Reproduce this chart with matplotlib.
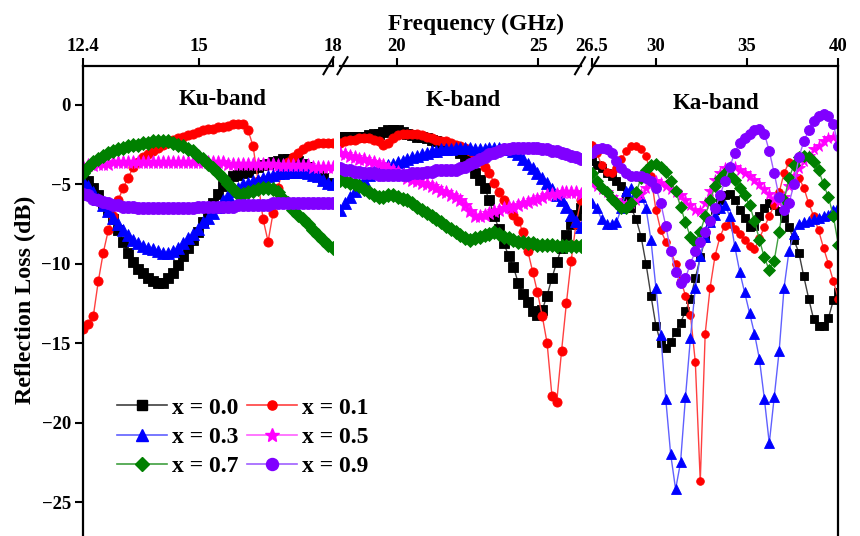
import numpy as np
import matplotlib
matplotlib.use("Agg")
import matplotlib.pyplot as plt
from matplotlib.lines import Line2D

plt.rcParams['font.family'] = ['Liberation Serif', 'DejaVu Serif']
plt.rcParams['font.weight'] = 'bold'

# ---------------- data ----------------
labels = ["x = 0.0", "x = 0.1", "x = 0.3", "x = 0.5", "x = 0.7", "x = 0.9"]
bands = ["Ku-band", "K-band", "Ka-band"]
band_lims = [(12.4, 18.0), (18.0, 26.5), (26.5, 40.0)]
band_ticks = [[12.4, 15, 18], [20, 25], [26.5, 30, 35, 40]]

# Ku band (12.4-18 GHz)
ku_x00 = [-4.3, -4.8, -5.2, -5.7, -6.2, -6.6, -7.2, -7.9, -8.6, -9.3, -9.9, -10.3, -10.6, -10.9, -11.1, -11.2,
          -11.2, -10.9, -10.6, -10.1, -9.5, -9.0, -8.5, -8.0, -7.4, -6.8, -6.2, -5.6, -5.1, -4.8, -4.5, -4.4,
          -4.3, -4.2, -4.0, -3.9, -3.8, -3.7, -3.6, -3.5, -3.4, -3.4, -3.4, -3.5, -3.7, -3.9, -4.2, -4.4,
          -4.6, -4.9, -5.0]
ku_x01 = [-14.1, -13.8, -13.3, -11.1, -9.3, -7.9, -7.0, -6.0, -5.2, -4.6, -3.9, -3.6, -3.3, -3.1, -2.9, -2.7,
          -2.5, -2.4, -2.2, -2.1, -2.0, -1.9, -1.8, -1.7, -1.6, -1.5, -1.5, -1.4, -1.4, -1.3, -1.2, -1.2,
          -1.2, -1.6, -2.6, -4.8, -7.2, -8.6, -6.8, -5.2, -4.0, -3.6, -3.3, -3.0, -2.8, -2.6, -2.5, -2.4,
          -2.4, -2.4, -2.4]
ku_x03 = [-4.8, -5.1, -5.5, -5.9, -6.3, -6.7, -7.1, -7.5, -7.9, -8.2, -8.5, -8.7, -8.9, -9.0, -9.1, -9.2,
          -9.3, -9.3, -9.2, -9.0, -8.7, -8.4, -8.1, -7.8, -7.4, -7.1, -6.8, -6.4, -6.0, -5.7, -5.4, -5.2,
          -5.0, -4.9, -4.8, -4.7, -4.6, -4.5, -4.4, -4.3, -4.3, -4.2, -4.2, -4.2, -4.2, -4.3, -4.4, -4.5,
          -4.7, -4.9, -5.0]
ku_x05 = [-3.9, -3.8, -3.8, -3.7, -3.7, -3.7, -3.6, -3.6, -3.6, -3.6, -3.6, -3.6, -3.6, -3.6, -3.6, -3.6,
          -3.6, -3.6, -3.6, -3.6, -3.6, -3.6, -3.6, -3.6, -3.6, -3.6, -3.6, -3.6, -3.6, -3.7, -3.7, -3.7,
          -3.7, -3.7, -3.7, -3.7, -3.7, -3.7, -3.7, -3.8, -3.8, -3.8, -3.8, -3.8, -3.8, -3.8, -3.9, -3.9,
          -3.9, -3.9, -3.9]
ku_x07 = [-4.3, -3.9, -3.6, -3.4, -3.2, -3.0, -2.9, -2.8, -2.7, -2.6, -2.5, -2.5, -2.4, -2.4, -2.3, -2.3,
          -2.3, -2.3, -2.4, -2.5, -2.6, -2.8, -2.9, -3.2, -3.4, -3.7, -4.0, -4.3, -4.6, -5.0, -5.3, -5.6,
          -5.6, -5.5, -5.4, -5.3, -5.2, -5.2, -5.3, -5.5, -5.9, -6.2, -6.6, -6.9, -7.2, -7.5, -7.9, -8.2,
          -8.5, -8.8, -9.0]
ku_x09 = [-5.6, -5.7, -5.9, -6.0, -6.1, -6.2, -6.3, -6.3, -6.4, -6.4, -6.4, -6.5, -6.5, -6.5, -6.5, -6.5,
          -6.5, -6.5, -6.5, -6.5, -6.5, -6.5, -6.5, -6.4, -6.4, -6.4, -6.4, -6.4, -6.4, -6.4, -6.4, -6.3,
          -6.3, -6.3, -6.3, -6.3, -6.3, -6.3, -6.2, -6.2, -6.2, -6.2, -6.2, -6.2, -6.2, -6.2, -6.2, -6.2,
          -6.2, -6.2, -6.2]

# K band (18-26.5 GHz)
k_x00 = [-2.0, -2.0, -2.0, -2.0, -2.0, -2.0, -1.9, -1.8, -1.8, -1.7, -1.6, -1.6, -1.6, -1.7, -1.8, -1.9,
         -2.0, -2.0, -2.1, -2.2, -2.3, -2.4, -2.5, -2.6, -2.8, -3.0, -3.3, -3.8, -4.3, -4.7, -5.2, -6.0,
         -7.0, -7.8, -8.7, -9.5, -10.2, -11.2, -11.9, -12.4, -13.0, -13.2, -12.9, -12.0, -10.9, -9.9, -9.0,
         -8.2, -7.5, -6.9, -6.5]
k_x01 = [-2.4, -2.3, -2.2, -2.2, -2.1, -2.1, -2.1, -2.2, -2.3, -2.5, -2.4, -2.1, -1.9, -1.8, -1.8, -1.8,
         -1.8, -1.9, -2.0, -2.1, -2.2, -2.3, -2.3, -2.4, -2.5, -2.6, -2.7, -2.9, -3.2, -3.5, -3.9, -4.3,
         -4.9, -5.5, -6.0, -6.5, -6.9, -7.3, -8.0, -9.2, -10.5, -11.8, -13.3, -15.0, -18.3, -18.7, -15.5,
         -12.5, -9.8, -7.5, -6.0]
k_x03 = [-6.6, -6.2, -5.8, -5.4, -5.0, -4.7, -4.4, -4.2, -4.0, -3.9, -3.8, -3.7, -3.6, -3.5, -3.4, -3.3,
         -3.2, -3.1, -3.0, -2.9, -2.9, -2.8, -2.8, -2.8, -2.7, -2.7, -2.7, -2.7, -2.8, -2.8, -2.8, -2.7,
         -2.7, -2.7, -2.8, -2.8, -2.9, -3.1, -3.4, -3.7, -4.0, -4.3, -4.6, -4.9, -5.3, -5.7, -6.0, -6.4,
         -6.9, -7.3, -7.7]
k_x05 = [-3.0, -3.1, -3.2, -3.3, -3.4, -3.4, -3.5, -3.6, -3.7, -3.8, -4.0, -4.1, -4.2, -4.4, -4.6, -4.7,
         -4.8, -4.9, -5.0, -5.1, -5.2, -5.4, -5.5, -5.7, -5.8, -6.0, -6.3, -6.7, -7.0, -7.0, -6.9, -6.8,
         -6.7, -6.6, -6.5, -6.4, -6.4, -6.3, -6.2, -6.1, -6.0, -5.9, -5.8, -5.7, -5.6, -5.6, -5.5, -5.5,
         -5.5, -5.5, -5.6]
k_x07 = [-4.7, -4.8, -4.9, -5.0, -5.1, -5.3, -5.5, -5.7, -5.8, -5.8, -5.7, -5.7, -5.8, -5.9, -6.0, -6.2,
         -6.4, -6.6, -6.8, -7.0, -7.2, -7.4, -7.6, -7.8, -8.0, -8.2, -8.4, -8.5, -8.4, -8.3, -8.2, -8.1,
         -8.0, -8.1, -8.3, -8.4, -8.5, -8.6, -8.6, -8.7, -8.7, -8.8, -8.8, -8.8, -8.8, -8.9, -8.9, -8.9,
         -8.9, -8.9, -8.9]
k_x09 = [-4.0, -4.1, -4.1, -4.2, -4.2, -4.3, -4.3, -4.3, -4.4, -4.4, -4.4, -4.4, -4.4, -4.4, -4.4, -4.3,
         -4.3, -4.3, -4.2, -4.2, -4.1, -4.1, -4.1, -4.1, -4.1, -4.0, -3.9, -3.7, -3.6, -3.4, -3.3, -3.1,
         -3.0, -2.9, -2.8, -2.8, -2.7, -2.7, -2.7, -2.7, -2.7, -2.7, -2.8, -2.8, -2.9, -2.9, -3.0, -3.1,
         -3.2, -3.3, -3.4]

# Ka band (26.5-40 GHz)
ka_x00 = [-3.5, -3.8, -4.0, -4.3, -4.5, -4.8, -5.1, -5.8, -6.5, -7.2, -8.3, -10.0, -12.0, -13.9, -15.0, -15.3,
          -14.9, -14.3, -13.7, -13.0, -12.2, -10.9, -9.6, -8.4, -7.4, -6.6, -6.0, -5.7, -5.6, -6.0, -6.6,
          -7.1, -7.7, -7.6, -7.0, -6.5, -6.2, -6.3, -6.7, -7.1, -7.7, -8.5, -9.3, -10.8, -12.2, -13.5,
          -13.9, -13.9, -13.4, -12.3, -11.8]
ka_x01 = [-2.5, -3.0, -3.8, -4.2, -4.3, -4.0, -3.4, -2.9, -2.6, -2.6, -2.8, -3.2, -4.5, -6.6, -7.9, -8.6,
          -9.2, -10.0, -11.0, -12.0, -13.2, -16.2, -23.7, -14.4, -11.5, -9.5, -8.3, -7.6, -7.5, -7.8, -8.1,
          -8.5, -8.9, -9.1, -8.4, -7.7, -7.0, -6.3, -5.5, -4.3, -3.6, -3.8, -4.6, -5.2, -6.2, -7.0, -7.9,
          -9.0, -10.0, -11.1, -12.2]
ka_x03 = [-6.2, -6.5, -7.2, -7.5, -7.5, -7.4, -6.5, -5.4, -5.2, -5.5, -5.8, -6.5, -8.5, -11.5, -14.5, -18.5,
          -22.0, -24.2, -22.5, -18.4, -14.7, -11.5, -9.5, -8.3, -7.4, -6.9, -6.5, -6.3, -7.0, -8.9, -10.5,
          -11.8, -13.1, -14.4, -16.0, -18.5, -21.3, -18.4, -15.5, -11.5, -9.2, -8.1, -7.5, -7.4, -7.3,
          -7.2, -7.1, -7.0, -6.9, -6.6, -6.4]
ka_x05 = [-5.0, -5.1, -5.3, -5.5, -5.8, -6.0, -6.2, -6.3, -6.2, -6.0, -5.6, -5.2, -4.9, -4.8, -4.9, -5.1,
          -5.3, -5.5, -5.7, -6.0, -6.3, -6.6, -6.7, -6.2, -5.4, -4.7, -4.3, -4.0, -3.9, -3.9, -4.1, -4.3,
          -4.5, -4.7, -5.0, -5.3, -5.6, -5.9, -6.1, -5.8, -5.1, -4.5, -4.0, -3.5, -3.2, -2.8, -2.6, -2.3,
          -2.1, -2.0, -2.2]
ka_x07 = [-4.3, -4.8, -5.2, -5.5, -5.9, -6.2, -6.5, -6.5, -6.2, -5.5, -4.6, -4.1, -3.8, -3.7, -3.9, -4.2,
          -4.8, -5.4, -6.4, -7.4, -8.3, -8.6, -8.0, -7.0, -6.0, -5.1, -4.6, -4.3, -4.4, -4.7, -5.2, -5.7,
          -6.3, -7.3, -8.5, -9.6, -10.4, -9.8, -8.0, -6.0, -4.6, -3.8, -3.3, -3.2, -3.3, -3.6, -4.1, -5.0,
          -5.8, -7.0, -8.8]
ka_x09 = [-3.0, -2.8, -2.7, -2.8, -3.0, -3.5, -4.0, -4.3, -4.5, -4.5, -4.5, -4.6, -4.8, -5.2, -6.2, -7.6,
          -9.2, -10.5, -11.2, -10.9, -10.0, -9.2, -8.6, -8.0, -7.3, -6.5, -5.7, -4.8, -3.9, -3.0, -2.4,
          -2.1, -1.8, -1.6, -1.5, -1.8, -2.9, -4.3, -5.8, -6.6, -6.2, -5.0, -3.3, -2.3, -1.6, -1.0, -0.7,
          -0.6, -0.7, -1.2, -2.6]

band_data = [
    [ku_x00, ku_x01, ku_x03, ku_x05, ku_x07, ku_x09],
    [k_x00, k_x01, k_x03, k_x05, k_x07, k_x09],
    [ka_x00, ka_x01, ka_x03, ka_x05, ka_x07, ka_x09],
]

# ---------------- styles ----------------
colors = ['#000000', '#ff0000', '#0000ff', '#ff00ff', '#008000', '#8000ff']
markers = ['s', 'o', '^', '*', 'D', 'o']
msizes = [5.8, 5.5, 7.0, 8.5, 6.2, 7.2]
band_scale = [1.2, 1.2, 1.0]
line_colors = ['#404040', '#ff4040', '#6060ff', '#ff60ff', '#40a040', '#a060ff']

W, H = 860, 536
fig = plt.figure(figsize=(W / 100, H / 100), dpi=100)

def fx(px):
    return px / W

def fy(py):
    return 1 - py / H

top_py = 65.7
ylim = (-27.14, 2.47)
ax_px = [(83.3, 333.0), (340.1, 580.8), (591.8, 838.3)]

axes = []
for i, (l, r) in enumerate(ax_px):
    ax = fig.add_axes([fx(l), 0.0, fx(r) - fx(l), fy(top_py)])
    ax.set_xlim(*band_lims[i])
    ax.set_ylim(*ylim)
    axes.append(ax)
    for j in range(6):
        vals = band_data[i][j]
        xs = np.linspace(band_lims[i][0], band_lims[i][1], len(vals))
        ax.plot(xs, vals, color=line_colors[j], lw=1.0, marker=markers[j],
                ms=msizes[j] * band_scale[i], mfc=colors[j], mec=colors[j], mew=0.6,
                label=labels[j], clip_on=True)
    ax.xaxis.set_ticks_position('top')
    ax.set_xticks(band_ticks[i])
    ax.set_xticklabels([('%g' % t) for t in band_ticks[i]])
    ax.tick_params(axis='x', direction='out', length=6, width=1.5, labelsize=13.5, pad=2)
    ax.spines['bottom'].set_visible(False)
    ax.spines['top'].set_linewidth(1.6)
    ax.spines['left'].set_visible(i == 0)
    ax.spines['right'].set_visible(i == 2)
    ax.spines['left'].set_linewidth(1.6)
    ax.spines['right'].set_linewidth(1.6)
    if i == 0:
        ax.set_yticks([0, -5, -10, -15, -20, -25])
        ax.tick_params(axis='y', direction='out', length=6, width=1.5, labelsize=13.5, pad=3)
    else:
        ax.set_yticks([])
    for lab in ax.get_xticklabels() + ax.get_yticklabels():
        lab.set_fontweight('bold')
    ax.patch.set_alpha(0)

# band labels (baseline positions)
band_label_px = [(223, 105), (463, 106), (716, 109)]
for name, (px, py) in zip(bands, band_label_px):
    fig.text(fx(px), fy(py), name, ha='center', va='baseline', fontsize=16.5, fontweight='bold')

fig.text(fx(476), fy(30), 'Frequency (GHz)', ha='center', va='baseline', fontsize=17, fontweight='bold')
fig.text(fx(25), fy(300), 'Reflection Loss (dB)', ha='center', va='center', rotation=90,
         fontsize=17.3, fontweight='bold')

# break marks
def slash(cx):
    fig.add_artist(Line2D([fx(cx - 5), fx(cx + 5)], [fy(top_py + 8.5), fy(top_py - 8.5)],
                          color='black', lw=1.5))
for cx in (328.5, 342.5, 580.0, 593.5):
    slash(cx)

# legend
legend_order = [0, 2, 4, 1, 3, 5]
legend_handles = []
for k in legend_order:
    legend_handles.append(Line2D([], [], color=line_colors[k], lw=1.2, marker=markers[k],
                                 ms=msizes[k] * 1.2, mfc=colors[k], mec=colors[k]))
leg = fig.legend(legend_handles, [labels[k] for k in legend_order], ncol=2, frameon=False,
                 loc='upper left', bbox_to_anchor=(fx(117), fy(397)), fontsize=17,
                 handlelength=2.1, handletextpad=0.22, columnspacing=0.38, labelspacing=0.33,
                 borderaxespad=0, borderpad=0)
for t in leg.get_texts():
    t.set_fontweight('bold')

fig.savefig('out.png', dpi=100)
